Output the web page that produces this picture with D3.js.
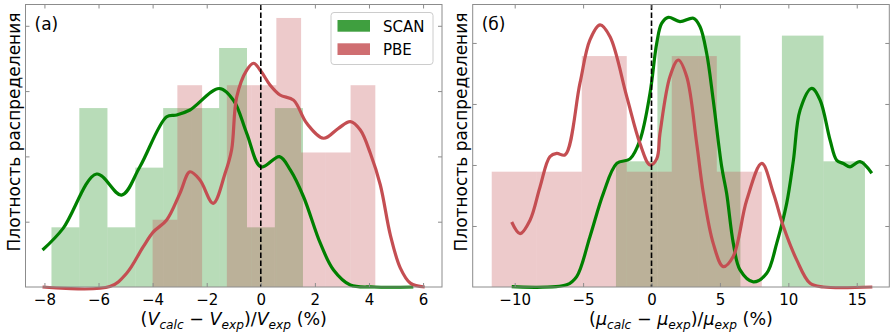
<!DOCTYPE html>
<html>
<head>
<meta charset="utf-8">
<script src="https://cdn.jsdelivr.net/npm/d3@7"></script>
<style>
  body { margin: 0; background: #fff; }
  svg { font-family: "DejaVu Sans", sans-serif; }
</style>
</head>
<body>
<svg width="893" height="333"></svg>
<script>
// (а) ошибка объёма, %
const volScanEdges = [-7.74, -6.71, -5.67, -4.64, -3.61, -2.58, -1.54, -0.51, 0.52, 1.56];
const volScanDens  = [0.0457, 0.137, 0.0457, 0.0914, 0.137, 0.137, 0.183, 0.0457, 0.137];
const volPbeEdges  = [-4.0, -3.085, -2.17, -1.255, -0.34, 0.575, 1.49, 2.405, 3.32, 4.235];
const volPbeDens   = [0.0515, 0.1545, 0, 0.1545, 0.1545, 0.206, 0.103, 0.103, 0.1545];

// кривые плотности (а)
const volScanKde = [[-8.07, 0.0283], [-7.31, 0.0449], [-6.07, 0.0865], [-5.15, 0.0704], [-4.47, 0.0921],
  [-3.48, 0.1304], [-3.11, 0.1317], [-2.62, 0.1355], [-1.54, 0.152], [-1.01, 0.143], [-0.52, 0.1177],
  [0.01, 0.0919], [0.69, 0.0998], [1.09, 0.0896], [1.58, 0.0691], [2.2, 0.0335], [2.69, 0.013],
  [3.31, 0.0015], [4.2, 0], [5.64, 0]];
const volPbeKde = [[-8.07, 0], [-5.58, 0.0003], [-4.96, 0.0105], [-4.35, 0.0307], [-3.98, 0.042],
  [-3.48, 0.0513], [-2.99, 0.0717], [-2.62, 0.0882], [-2.25, 0.0819], [-1.76, 0.0641], [-1.32, 0.087],
  [-1.08, 0.1049], [-0.89, 0.1455], [-0.52, 0.166], [-0.27, 0.1713], [0.02, 0.1648], [0.34, 0.1547],
  [0.71, 0.147], [1.21, 0.1431], [1.7, 0.1253], [2.32, 0.1139], [2.87, 0.1215], [3.31, 0.1266],
  [3.68, 0.1202], [4.05, 0.1024], [4.42, 0.0781], [4.79, 0.0398], [5.16, 0.0145], [5.53, 0.003], [6.06, 0]];

// (б) ошибка модуля сдвига, %
const modScanEdges = [-2.6, 0.43, 3.47, 6.5, 9.53, 12.57, 15.6];
const modScanDens  = [0.0412, 0.0824, 0.0824, 0, 0.0824, 0.0412];
const modPbeEdges  = [-11.68, -8.39, -5.1, -1.81, 1.48, 4.77, 8.06];
const modPbeDens   = [0.0378, 0.0378, 0.0757, 0.0378, 0.0757, 0.0378];

const modScanKde = [[-10.22, 0.0001], [-6.2, 0.0007], [-5.47, 0.0034], [-4.5, 0.0165], [-3.52, 0.0307],
  [-2.54, 0.0405], [-1.57, 0.042], [-0.84, 0.0482], [-0.11, 0.0635], [0.38, 0.0799], [0.74, 0.0864],
  [1.23, 0.0884], [2.08, 0.087], [3.06, 0.0881], [3.54, 0.0854], [4.03, 0.0766], [4.51, 0.0613],
  [5.13, 0.0394], [5.49, 0.0307], [5.98, 0.0143], [6.47, 0.0056], [7.44, 0.0017], [8.42, 0.0045],
  [9.15, 0.0143], [9.88, 0.0274], [10.37, 0.0415], [10.86, 0.058], [11.71, 0.0651], [12.32, 0.0613],
  [13.05, 0.0482], [13.54, 0.0415], [14.02, 0.0405], [14.51, 0.0394], [15.24, 0.0411], [16.1, 0.0373]];
const modPbeKde = [[-10.22, 0.0213], [-9.61, 0.0175], [-8.88, 0.0219], [-8.15, 0.0328], [-7.43, 0.0427],
  [-6.93, 0.0438], [-6.32, 0.0433], [-5.23, 0.0668], [-4.5, 0.081], [-3.76, 0.0859], [-3.03, 0.082],
  [-1.81, 0.0624], [-0.84, 0.047], [-0.11, 0.04], [0.38, 0.042], [0.62, 0.0504], [1.35, 0.069],
  [1.96, 0.0744], [2.57, 0.069], [3.3, 0.0471], [3.79, 0.0307], [4.51, 0.0143], [5.24, 0.0067],
  [5.97, 0.01], [6.96, 0.0285], [8.06, 0.0405], [8.91, 0.0307], [9.64, 0.0198], [10.62, 0.0088],
  [11.59, 0.0012], [12.56, 0], [16.14, 0]];

const xTicksA = [-8, -6, -4, -2, 0, 2, 4, 6];
const yTicksA = [0.05, 0.10, 0.15, 0.20];
const xTicksB = [-10, -5, 0, 5, 10, 15];
const yTicksB = [0.02, 0.04, 0.06, 0.08];

const seriesNames = ["SCAN", "PBE"];
const yLabel = "Плотность распределения";

const cGreen = "#008000";
const cRed = "#c44e52";
const spine = "#8c8c8c";

let svg = d3.select("svg");

//рисуем одну панель
function drawPanel(p) {
  let scX = d3.scaleLinear().domain(p.xDomain).range([p.left, p.right]);
  let scY = d3.scaleLinear().domain(p.yDomain).range([p.bottom, p.top]);
  let g = svg.append("g");

  // гистограммы: сначала SCAN, поверх PBE
  const hists = [[p.scanEdges, p.scanDens, cGreen, 0.28], [p.pbeEdges, p.pbeDens, cRed, 0.3]];
  for (let [edges, dens, col, op] of hists) {
    g.append("g").selectAll("rect")
      .data(dens)
      .enter()
      .append("rect")
      .attr("x", (d, i) => scX(edges[i]))
      .attr("width", (d, i) => scX(edges[i + 1]) - scX(edges[i]))
      .attr("y", d => scY(d))
      .attr("height", d => scY(0) - scY(d))
      .attr("fill", col)
      .attr("fill-opacity", op);
  }

  // кривые
  let line = d3.line()
    .x(d => scX(d[0]))
    .y(d => scY(d[1]))
    .curve(d3.curveCatmullRom.alpha(0.5));
  g.append("path").attr("d", line(p.scanKde))
    .attr("fill", "none").attr("stroke", cGreen).attr("stroke-width", 3.2);
  g.append("path").attr("d", line(p.pbeKde))
    .attr("fill", "none").attr("stroke", cRed).attr("stroke-width", 3.2);

  // нулевая линия
  g.append("line")
    .attr("x1", scX(0)).attr("x2", scX(0))
    .attr("y1", p.top).attr("y2", p.bottom)
    .attr("stroke", "#000").attr("stroke-width", 1.6)
    .attr("stroke-dasharray", "5.5,2.5");

  // оси, засечки внутрь
  let axB = g.append("g").attr("transform", `translate(0,${p.bottom})`)
    .call(d3.axisBottom(scX).tickValues(p.xTicks).tickSizeInner(-4).tickSizeOuter(0).tickPadding(7)
      .tickFormat(d => d < 0 ? "\u2212" + Math.abs(d) : d));
  axB.selectAll("text").attr("font-size", 15).attr("fill", "#000")
    .attr("font-family", "DejaVu Sans");
  g.append("g").attr("transform", `translate(0,${p.top})`)
    .call(d3.axisTop(scX).tickValues(p.xTicks).tickSizeInner(-4).tickSizeOuter(0).tickFormat(""));
  g.append("g").attr("transform", `translate(${p.left},0)`)
    .call(d3.axisLeft(scY).tickValues(p.yTicks).tickSizeInner(-4).tickSizeOuter(0).tickFormat(""));
  g.append("g").attr("transform", `translate(${p.right},0)`)
    .call(d3.axisRight(scY).tickValues(p.yTicks).tickSizeInner(-4).tickSizeOuter(0).tickFormat(""));
  g.selectAll(".domain").remove();
  g.selectAll(".tick line").attr("stroke", spine);

  g.append("rect")
    .attr("x", p.left).attr("y", p.top)
    .attr("width", p.right - p.left).attr("height", p.bottom - p.top)
    .attr("fill", "none").attr("stroke", spine).attr("stroke-width", 1);

  // подпись панели
  g.append("text").attr("x", p.left + 9).attr("y", 30)
    .attr("font-size", 17).text(p.tag);

  // подпись оси Y
  g.append("text")
    .attr("transform", `translate(${p.left - 6},${132}) rotate(-90)`)
    .attr("text-anchor", "middle")
    .attr("font-size", 17)
    .text(yLabel);

  // подпись оси X с индексами
  let t = g.append("text")
    .attr("x", (p.left + p.right) / 2).attr("y", 324.5)
    .attr("text-anchor", "middle").attr("font-size", 17.5);
  const v = p.sym;
  const parts = [["(", 0], [v, 1], ["calc", 2], [" \u2212 ", 0], [v, 1], ["exp", 2],
                 [")/", 0], [v, 1], ["exp", 2], [" (%)", 0]];
  let prevSub = false;
  for (let [s, kind] of parts) {
    let ts = t.append("tspan").text(s);
    if (kind > 0) ts.attr("font-style", "italic");
    if (kind == 2) {
      ts.attr("font-size", 12.2).attr("dy", 4);
      prevSub = true;
    } else if (prevSub) {
      ts.attr("dy", -4);
      prevSub = false;
    }
  }
}

drawPanel({
  left: 25.5, right: 442, top: 4.5, bottom: 287,
  xDomain: [-8.7, 6.7], yDomain: [0, 0.2163],
  xTicks: xTicksA, yTicks: yTicksA,
  scanEdges: volScanEdges, scanDens: volScanDens, pbeEdges: volPbeEdges, pbeDens: volPbeDens,
  scanKde: volScanKde, pbeKde: volPbeKde,
  tag: "(а)", sym: "V"
});

drawPanel({
  left: 472.7, right: 889.3, top: 4.5, bottom: 287,
  xDomain: [-13.07, 17.38], yDomain: [0, 0.0926],
  xTicks: xTicksB, yTicks: yTicksB,
  scanEdges: modScanEdges, scanDens: modScanDens, pbeEdges: modPbeEdges, pbeDens: modPbeDens,
  scanKde: modScanKde, pbeKde: modPbeKde,
  tag: "(б)", sym: "\u03bc"
});

// легенда на панели (а)
let leg = svg.append("g");
leg.append("rect")
  .attr("x", 331).attr("y", 12.5).attr("width", 102).attr("height", 52).attr("rx", 3)
  .attr("fill", "#fff").attr("fill-opacity", 0.8)
  .attr("stroke", "#cccccc").attr("stroke-width", 1);
const legCols = ["#3f9f3f", "#cf6e71"];
seriesNames.forEach((name, i) => {
  leg.append("rect")
    .attr("x", 337.5).attr("y", 20 + i * 23.3).attr("width", 32.5).attr("height", 11.7)
    .attr("fill", legCols[i]);
  leg.append("text")
    .attr("x", 383).attr("y", 31.5 + i * 23.3)
    .attr("font-size", 15)
    .text(name);
});
</script>
</body>
</html>
